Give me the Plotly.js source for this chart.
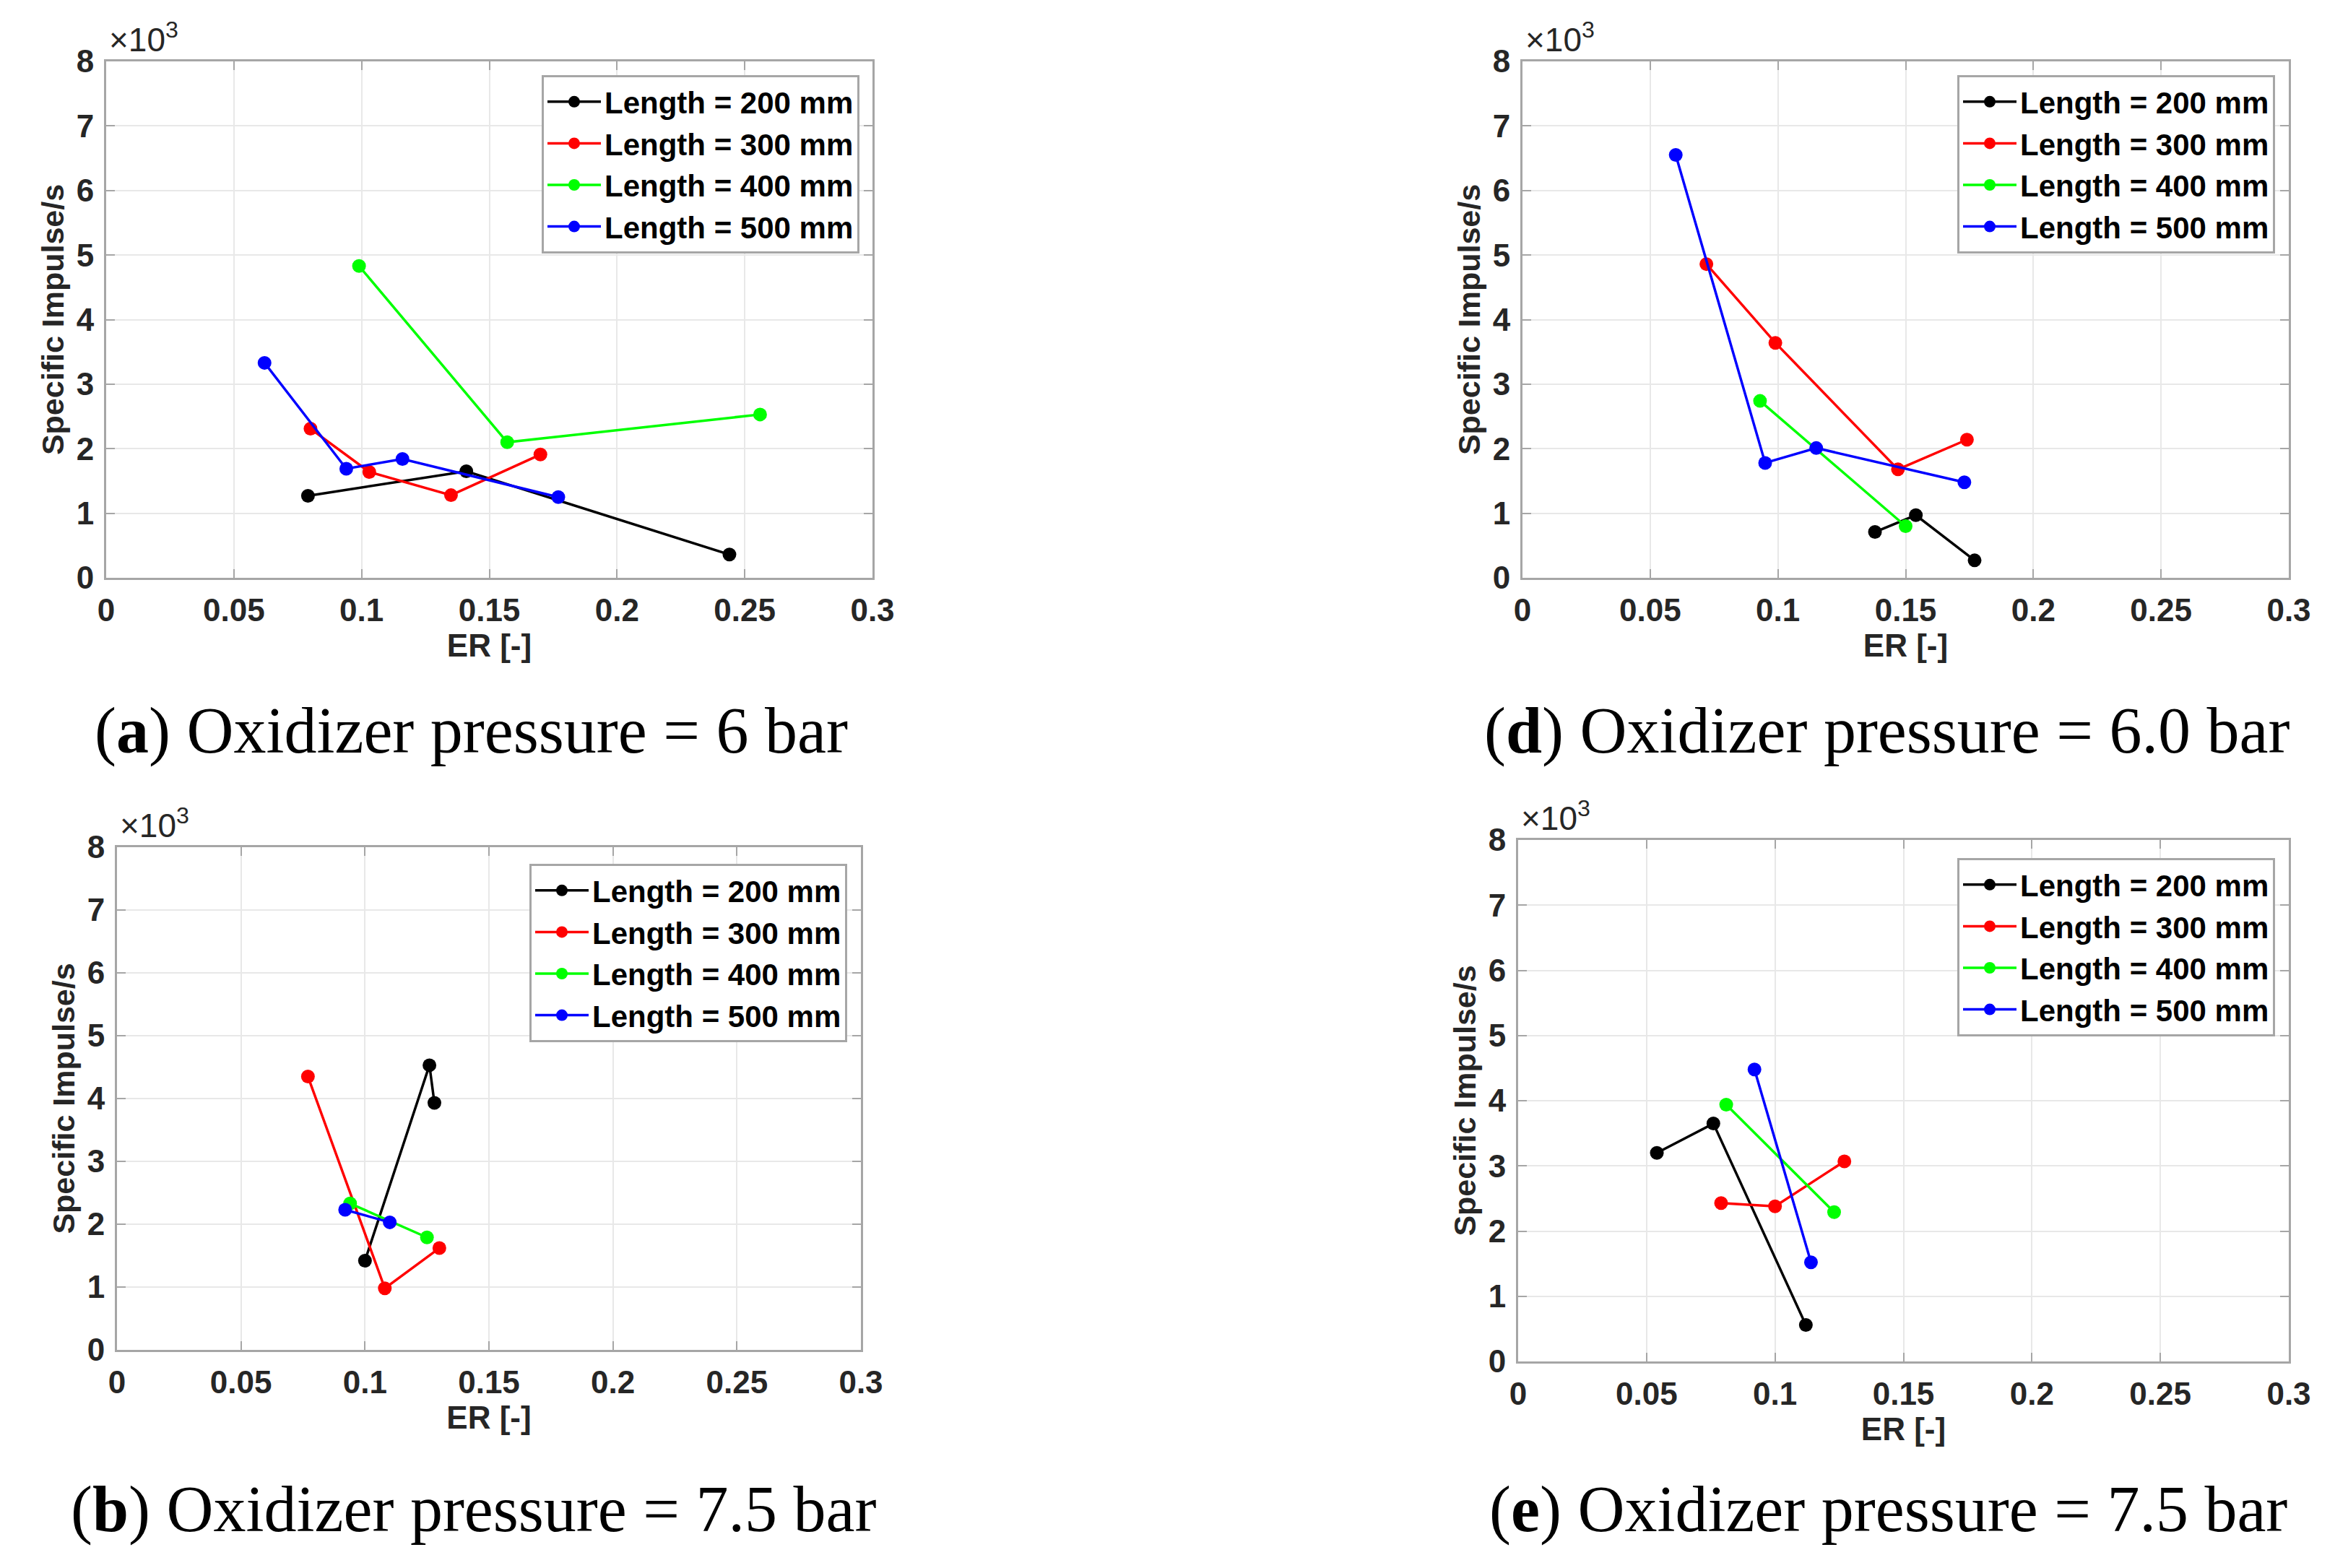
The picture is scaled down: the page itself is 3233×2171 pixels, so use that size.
<!DOCTYPE html>
<html><head><meta charset="utf-8">
<script src="https://cdn.plot.ly/plotly-3.0.1.min.js"></script>
<style>html,body{margin:0;padding:0;background:#fff}#chart{width:3233px;height:2171px}</style>
</head><body><div id="chart"></div>
<script>
// ---- data (Specific impulse in units of 10^3) ----
const seriesNames = ['Length = 200 mm', 'Length = 300 mm', 'Length = 400 mm', 'Length = 500 mm'];
const seriesColors = ['#000000', '#ff0000', '#00ff00', '#0000ff'];
const xTickVals = [0, 0.05, 0.1, 0.15, 0.2, 0.25, 0.3];
const xTickText = ['0', '0.05', '0.1', '0.15', '0.2', '0.25', '0.3'];
const yTickVals = [0, 1, 2, 3, 4, 5, 6, 7, 8];
const yTickText = ['0', '1', '2', '3', '4', '5', '6', '7', '8'];
const captions = ['(<b>a</b>) Oxidizer pressure = 6 bar', '(<b>d</b>) Oxidizer pressure = 6.0 bar',
                  '(<b>b</b>) Oxidizer pressure = 7.5 bar', '(<b>e</b>) Oxidizer pressure = 7.5 bar'];

// panel (a)
const a_er_200 = [0.079, 0.141, 0.244];          const a_isp_200 = [1.27, 1.65, 0.36];
const a_er_300 = [0.080, 0.103, 0.135, 0.170];   const a_isp_300 = [2.31, 1.64, 1.28, 1.91];
const a_er_400 = [0.099, 0.157, 0.256];          const a_isp_400 = [4.83, 2.10, 2.53];
const a_er_500 = [0.062, 0.094, 0.116, 0.177];   const a_isp_500 = [3.33, 1.69, 1.84, 1.25];
// panel (d)
const d_er_200 = [0.138, 0.154, 0.177];          const d_isp_200 = [0.71, 0.97, 0.27];
const d_er_300 = [0.072, 0.099, 0.147, 0.174];   const d_isp_300 = [4.86, 3.64, 1.68, 2.14];
const d_er_400 = [0.093, 0.150];                 const d_isp_400 = [2.74, 0.80];
const d_er_500 = [0.060, 0.095, 0.115, 0.173];   const d_isp_500 = [6.55, 1.78, 2.01, 1.48];
// panel (b)
const b_er_200 = [0.100, 0.126, 0.128];          const b_isp_200 = [1.42, 4.53, 3.93];
const b_er_300 = [0.077, 0.108, 0.130];          const b_isp_300 = [4.35, 0.98, 1.62];
const b_er_400 = [0.094, 0.125];                 const b_isp_400 = [2.33, 1.79];
const b_er_500 = [0.092, 0.110];                 const b_isp_500 = [2.23, 2.03];
// panel (e)
const e_er_200 = [0.054, 0.076, 0.112];          const e_isp_200 = [3.20, 3.65, 0.56];
const e_er_300 = [0.079, 0.100, 0.127];          const e_isp_300 = [2.43, 2.38, 3.07];
const e_er_400 = [0.081, 0.123];                 const e_isp_400 = [3.94, 2.29];
const e_er_500 = [0.092, 0.114];                 const e_isp_500 = [4.48, 1.52];

const panels = [
  {ax: '',  leg: 'legend',  xs: [a_er_200, a_er_300, a_er_400, a_er_500], ys: [a_isp_200, a_isp_300, a_isp_400, a_isp_500]},
  {ax: '2', leg: 'legend2', xs: [d_er_200, d_er_300, d_er_400, d_er_500], ys: [d_isp_200, d_isp_300, d_isp_400, d_isp_500]},
  {ax: '3', leg: 'legend3', xs: [b_er_200, b_er_300, b_er_400, b_er_500], ys: [b_isp_200, b_isp_300, b_isp_400, b_isp_500]},
  {ax: '4', leg: 'legend4', xs: [e_er_200, e_er_300, e_er_400, e_er_500], ys: [e_isp_200, e_isp_300, e_isp_400, e_isp_500]}
];

// ---- layout geometry (pixels) ----
const W = 3233, H = 2171;
const boxes = [
  {l: 147,  r: 1208, t: 85,   b: 800,  legR: 1190, legT: 104,  capX: 652,  capY: 1012},
  {l: 2108, r: 3169, t: 85,   b: 800,  legR: 3150, legT: 104,  capX: 2612, capY: 1012},
  {l: 162,  r: 1192, t: 1173, b: 1869, legR: 1173, legT: 1196, capX: 655,  capY: 2090},
  {l: 2102, r: 3169, t: 1163, b: 1885, legR: 3150, legT: 1188, capX: 2614, capY: 2090}
];
const px = v => v / W, py = v => 1 - v / H;

const sans = 'Liberation Sans, Arial, sans-serif';
const tickFont = {family: sans, size: 44, color: '#262626', weight: 'bold'};

const data = [];
panels.forEach((p, pi) => {
  for (let k = 0; k < 4; k++) {
    data.push({
      type: 'scatter', mode: 'lines+markers',
      x: p.xs[k], y: p.ys[k], name: seriesNames[k],
      xaxis: 'x' + p.ax, yaxis: 'y' + p.ax, legend: p.leg,
      line: {color: seriesColors[k], width: 3.5},
      marker: {color: seriesColors[k], size: 19}
    });
  }
});

const layout = {
  width: W, height: H,
  margin: {l: 0, r: 0, t: 0, b: 0},
  paper_bgcolor: '#ffffff', plot_bgcolor: '#ffffff',
  showlegend: true,
  annotations: []
};

boxes.forEach((bx, i) => {
  const sfx = i === 0 ? '' : String(i + 1);
  layout['xaxis' + sfx] = {
    domain: [px(bx.l), px(bx.r)], anchor: 'y' + sfx,
    range: [0, 0.3], tickvals: xTickVals, ticktext: xTickText,
    showgrid: true, gridcolor: '#e8e8e8', gridwidth: 2,
    showline: true, linecolor: '#a6a6a6', linewidth: 3, mirror: 'ticks',
    ticks: 'inside', ticklen: 12, tickwidth: 2, tickcolor: '#a6a6a6',
    zeroline: false, tickfont: tickFont, ticklabelstandoff: 4,
    title: {text: '<b>ER [-]</b>', font: {family: sans, size: 44, color: '#262626'}, standoff: 4}
  };
  layout['yaxis' + sfx] = {
    domain: [py(bx.b), py(bx.t)], anchor: 'x' + sfx,
    range: [0, 8], tickvals: yTickVals, ticktext: yTickText,
    showgrid: true, gridcolor: '#e8e8e8', gridwidth: 2,
    showline: true, linecolor: '#a6a6a6', linewidth: 3, mirror: 'ticks',
    ticks: 'inside', ticklen: 12, tickwidth: 2, tickcolor: '#a6a6a6',
    zeroline: false, tickfont: tickFont, ticklabelstandoff: 5,
    title: {text: '<b>Specific Impulse/s</b>', font: {family: sans, size: 43, color: '#262626'}, standoff: 4}
  };
  layout[i === 0 ? 'legend' : 'legend' + (i + 1)] = {
    x: px(bx.legR), y: py(bx.legT), xanchor: 'right', yanchor: 'top',
    xref: 'paper', yref: 'paper',
    bgcolor: '#ffffff', bordercolor: '#a6a6a6', borderwidth: 3,
    font: {family: sans, size: 42, color: '#000000', weight: 'bold'},
    itemwidth: 74, tracegroupgap: 0
  };
  layout.annotations.push({
    xref: 'paper', yref: 'paper', x: px(bx.l + 2), y: py(bx.t - 2),
    xanchor: 'left', yanchor: 'bottom', showarrow: false,
    text: '×10<sup>3</sup>', font: {family: sans, size: 46, color: '#262626'}
  });
  layout.annotations.push({
    xref: 'paper', yref: 'paper', x: px(bx.capX), y: py(bx.capY),
    xanchor: 'center', yanchor: 'middle', showarrow: false,
    text: captions[i], font: {family: 'Liberation Serif, Times New Roman, serif', size: 90, color: '#000000'}
  });
});

Plotly.newPlot('chart', data, layout, {staticPlot: true});
</script></body></html>
